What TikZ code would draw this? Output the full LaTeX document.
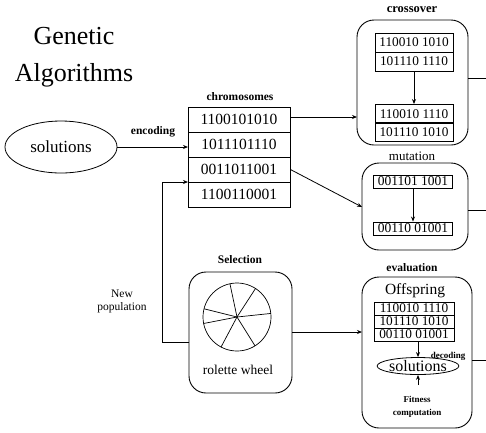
\documentclass[tikz,border=0pt]{standalone}
\usepackage{fontspec}
\setmainfont{Liberation Serif}
\usetikzlibrary{arrows.meta,shapes.geometric}
\tikzset{
  arr/.style={-{Stealth[length=5pt,width=4pt]}, line width=0.8pt},
  ln/.style={line width=0.8pt},
  crow/.style={draw, line width=0.9pt, minimum width=102pt, minimum height=25pt, inner sep=0pt,
    font=\fontsize{15.5}{16}\selectfont},
  srow/.style={draw, line width=0.9pt, minimum width=78pt, minimum height=19pt, inner sep=0pt,
    font=\fontsize{13.3}{14}\selectfont},
  mrow/.style={draw, line width=0.9pt, minimum width=79pt, minimum height=13pt, inner sep=0pt,
    font=\fontsize{13.5}{14}\selectfont},
  erow/.style={draw, line width=0.9pt, minimum width=80pt, minimum height=13pt, inner sep=0pt,
    font=\fontsize{13.3}{14}\selectfont},
  rbox/.style={draw, line width=0.9pt, rounded corners=17pt},
  blab/.style={font=\bfseries\fontsize{11.5}{12}\selectfont, inner sep=0pt},
  slab/.style={font=\bfseries\fontsize{9}{10}\selectfont, inner sep=0pt},
  rlab/.style={font=\fontsize{11.5}{13}\selectfont, inner sep=0pt, align=center},
}
\begin{document}
\begin{tikzpicture}[x=1pt,y=-1pt]
\useasboundingbox (0,0) rectangle (486,432);

% title
\node[font=\fontsize{26}{37}\selectfont, align=center, inner sep=0pt] (title) at (74,57) {Genetic\\Algorithms};

% solutions ellipse
\node[draw, ellipse, line width=0.8pt, minimum width=112pt, minimum height=52pt, inner sep=0pt,
  font=\fontsize{17}{18}\selectfont] (sol) at (61,147) {solutions};
\node[blab] (enc) at (153,132) {encoding};

% chromosomes
\node[blab] (chl) at (240,97) {chromosomes};
\node[crow] (c1) at (239,119.5) {1100101010};
\node[crow] (c2) at (239,144.5) {1011101110};
\node[crow] (c3) at (239,169.5) {0011011001};
\node[crow] (c4) at (239,194.5) {1100110001};
\coordinate (c34) at (188,182);
\coordinate (c2w) at (188,147);
\draw[arr] (sol.east |- c2w) -- (c2w);

% crossover
\node[font=\bfseries\fontsize{12.5}{13}\selectfont, inner sep=0pt] (crl) at (412,10) {crossover};
\node[rbox, minimum width=111pt, minimum height=125pt] (crbox) at (412.5,82.5) {};
\node[srow] (x1) at (414,42.5) {110010 1010};
\node[srow] (x2) at (414,61.5) {101110 1110};
\node[srow] (x3) at (414,114) {110010 1110};
\node[srow] (x4) at (414,132) {101110 1010};
\draw[arr] (x2.south) -- (x3.north);
\coordinate (crin) at (357,117);
\draw[arr] (c1.east |- crin) -- (crin);
\coordinate (crout) at (486,78);
\draw[ln] (crbox.east |- crout) -- (crout);

% mutation
\node[font=\fontsize{13}{14}\selectfont, inner sep=0pt] (mul) at (412,156) {mutation};
\node[rbox, minimum width=106pt, minimum height=87pt] (mubox) at (415,206.5) {};
\node[mrow] (m1) at (413,181.5) {001101 1001};
\node[mrow] (m2) at (413,228.5) {00110 01001};
\draw[arr] (m1.south) -- (m2.north);
\coordinate (muin) at (362,207);
\draw[arr] (c3.east) -- (muin);
\coordinate (muout) at (486,210);
\draw[ln] (mubox.east |- muout) -- (muout);

% evaluation
\node[blab] (evl) at (412,268) {evaluation};
\node[rbox, minimum width=110pt, minimum height=151pt] (evbox) at (417,352.5) {};
\node[font=\fontsize{15.5}{16}\selectfont, inner sep=0pt] (off) at (415,291) {Offspring};
\node[erow] (e1) at (414,308.5) {110010 1110};
\node[erow] (e2) at (414,321.5) {101110 1010};
\node[erow] (e3) at (414,334.5) {00110 01001};
\node[draw, ellipse, line width=0.8pt, minimum width=70pt, minimum height=17pt, inner sep=0pt,
  font=\fontsize{16}{17}\selectfont] (esol) at (418,366) {solutions};
\coordinate (etop) at (418,341);
\draw[arr] (etop) -- (esol.north);
\node[slab] (dec) at (448,356) {decoding};
\coordinate (fitb) at (418,385);
\draw[arr] (fitb) -- (esol.south);
\node[slab] (fit1) at (417,399) {Fitness};
\node[slab] (fit2) at (417,413) {computation};
\coordinate (evout) at (486,360);
\draw[ln] (evbox.east |- evout) -- (evout);

% selection
\node[blab] (sell) at (240,260) {Selection};
\node[rbox, minimum width=103pt, minimum height=121pt] (selbox) at (240.5,332.5) {};
\coordinate (wc) at (237,317);
\draw[line width=0.7pt] (wc) circle (34pt);
\foreach \a in {102,57,6,166,191,242,302}{
  \draw[line width=0.7pt] (wc) -- ++(-\a:34);
}
\node[font=\fontsize{13.5}{14}\selectfont, inner sep=0pt] (rw) at (238,370) {rolette wheel};

\coordinate (evin) at (362,332);
\draw[arr] (selbox.east |- evin) -- (evin);

% feedback
\coordinate (fbl) at (189,342);
\coordinate (fbc) at (162,342);
\draw[arr] (fbl) -- (fbc) |- (c34);
\node[rlab] (np) at (122,301) {New\\population};
\end{tikzpicture}
\end{document}
